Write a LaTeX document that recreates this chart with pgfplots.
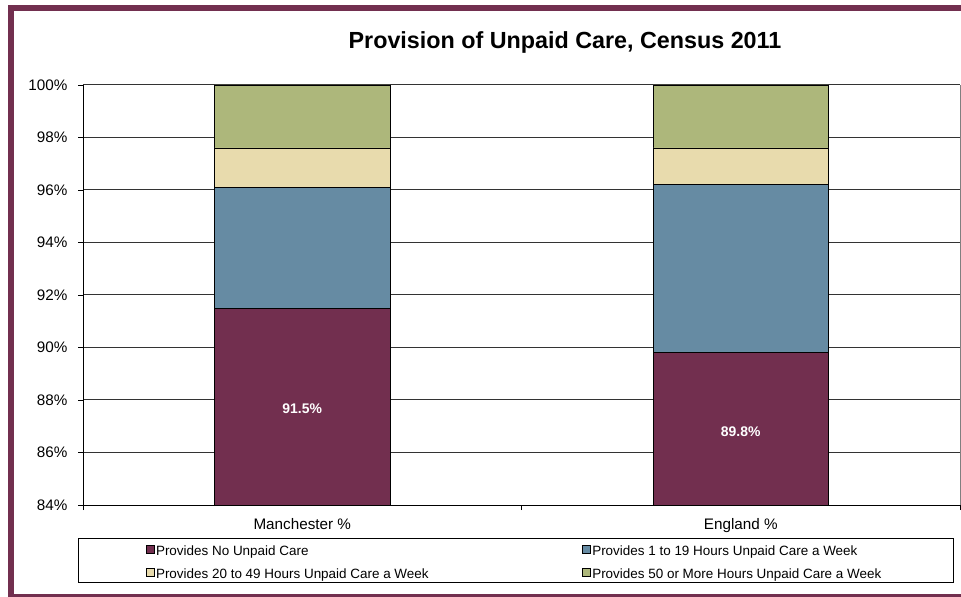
\documentclass[border=0pt]{standalone}
\usepackage{fontspec}
\setmainfont{Liberation Sans}
\usepackage{pgfplots}
\usepackage{pgfplotstable}
\pgfplotsset{compat=1.18}

\definecolor{noCare}{HTML}{722F4F}
\definecolor{lowCare}{HTML}{668BA3}
\definecolor{midCare}{HTML}{E8DBAD}
\definecolor{highCare}{HTML}{ADB77B}
\definecolor{frameCol}{HTML}{722F4F}

% square legend marker, padded on the left
\pgfplotsset{careleg/.style={legend image code/.code={
  \path[draw=none, fill=none] (-68bp,0bp) -- (0bp,0bp);
  \draw[##1, line width=0.5bp] (0bp,-4bp) rectangle (8bp,4bp);}}}

\pgfplotstableread{
x none low mid high
0 91.5 4.6 1.5 2.4
1 89.8 6.4 1.4 2.4
}\caredata

% where the white value labels sit (middle of the visible maroon part)
\pgfplotstableread{
x ypos lab
0 87.75 91.5
1 86.90 89.8
}\labdata

\pgfplotsset{carebox/.style={
  at={(83bp,92bp)}, anchor=south west,
  scale only axis, width=877bp, height=420bp,
  xmin=-0.5, xmax=1.5, ymin=84, ymax=100}}

\begin{document}
\begin{tikzpicture}
\useasboundingbox (0,0) rectangle (961bp,597bp);
\draw[frameCol, line width=6bp] (11bp,0bp) rectangle (980bp,589bp);
\node[anchor=base, font=\fontsize{23.4}{28}\selectfont\bfseries] at (565bp,548bp)
  {Provision of Unpaid Care, Census 2011};
\begin{axis}[
  carebox,
  ybar stacked, bar width=0.4,
  axis x line*=bottom, axis y line*=left,
  axis line style={black, line width=0.8bp},
  tick align=outside, major tick length=5bp,
  tick style={black, line width=0.8bp},
  ytick={84,86,...,100},
  yticklabel={\pgfmathprintnumber{\tick}\%},
  yticklabel style={xshift=-7bp},
  xtick={-0.5,0.5,1.5}, xticklabels={{},{},{}},
  extra x ticks={0,1},
  extra x tick labels={Manchester \%,England \%},
  extra x tick style={major tick length=0pt, tick label style={yshift=-10bp}},
  /pgf/number format/assume math mode=true,
  tick label style={font=\fontsize{15.3}{18}\selectfont},
  ymajorgrids, grid style={black!80, line width=1bp},
  after end axis/.code={\draw[gray, line width=0.8bp] (rel axis cs:1,0) -- (rel axis cs:1,1);},
  legend columns=2,
  legend cell align=left,
  legend style={at={(-0.0057,-0.0786)}, anchor=north west,
    draw=black, line width=0.6bp, inner xsep=0bp, inner ysep=2bp,
    row sep=6bp,
    font=\fontsize{13.5}{16}\selectfont,
    nodes={inner xsep=1.5bp, inner ysep=0bp, text height=15bp, text depth=2bp}},
]
\addplot[fill=noCare, draw=black, line width=0.6bp, careleg]
  table[x=x, y=none] {\caredata};
\addlegendentry{\makebox[357bp][l]{Provides No Unpaid Care}}
\addplot[fill=lowCare, draw=black, line width=0.6bp, careleg]
  table[x=x, y=low] {\caredata};
\addlegendentry{\makebox[359bp][l]{Provides 1 to 19 Hours Unpaid Care a Week}}
\addplot[fill=midCare, draw=black, line width=0.6bp, careleg]
  table[x=x, y=mid] {\caredata};
\addlegendentry{\makebox[357bp][l]{Provides 20 to 49 Hours Unpaid Care a Week}}
\addplot[fill=highCare, draw=black, line width=0.6bp, careleg]
  table[x=x, y=high] {\caredata};
\addlegendentry{\makebox[359bp][l]{Provides 50 or More Hours Unpaid Care a Week}}
\end{axis}
\begin{axis}[carebox, hide axis]
\addplot[draw=none, mark=none, point meta=explicit symbolic,
  nodes near coords={\pgfplotspointmeta\%},
  every node near coord/.append style={font=\fontsize{14}{16}\selectfont\bfseries,
    text=white, anchor=center, yshift=-2.5bp}]
  table[x=x, y=ypos, meta=lab] {\labdata};
\end{axis}
\end{tikzpicture}
\end{document}
